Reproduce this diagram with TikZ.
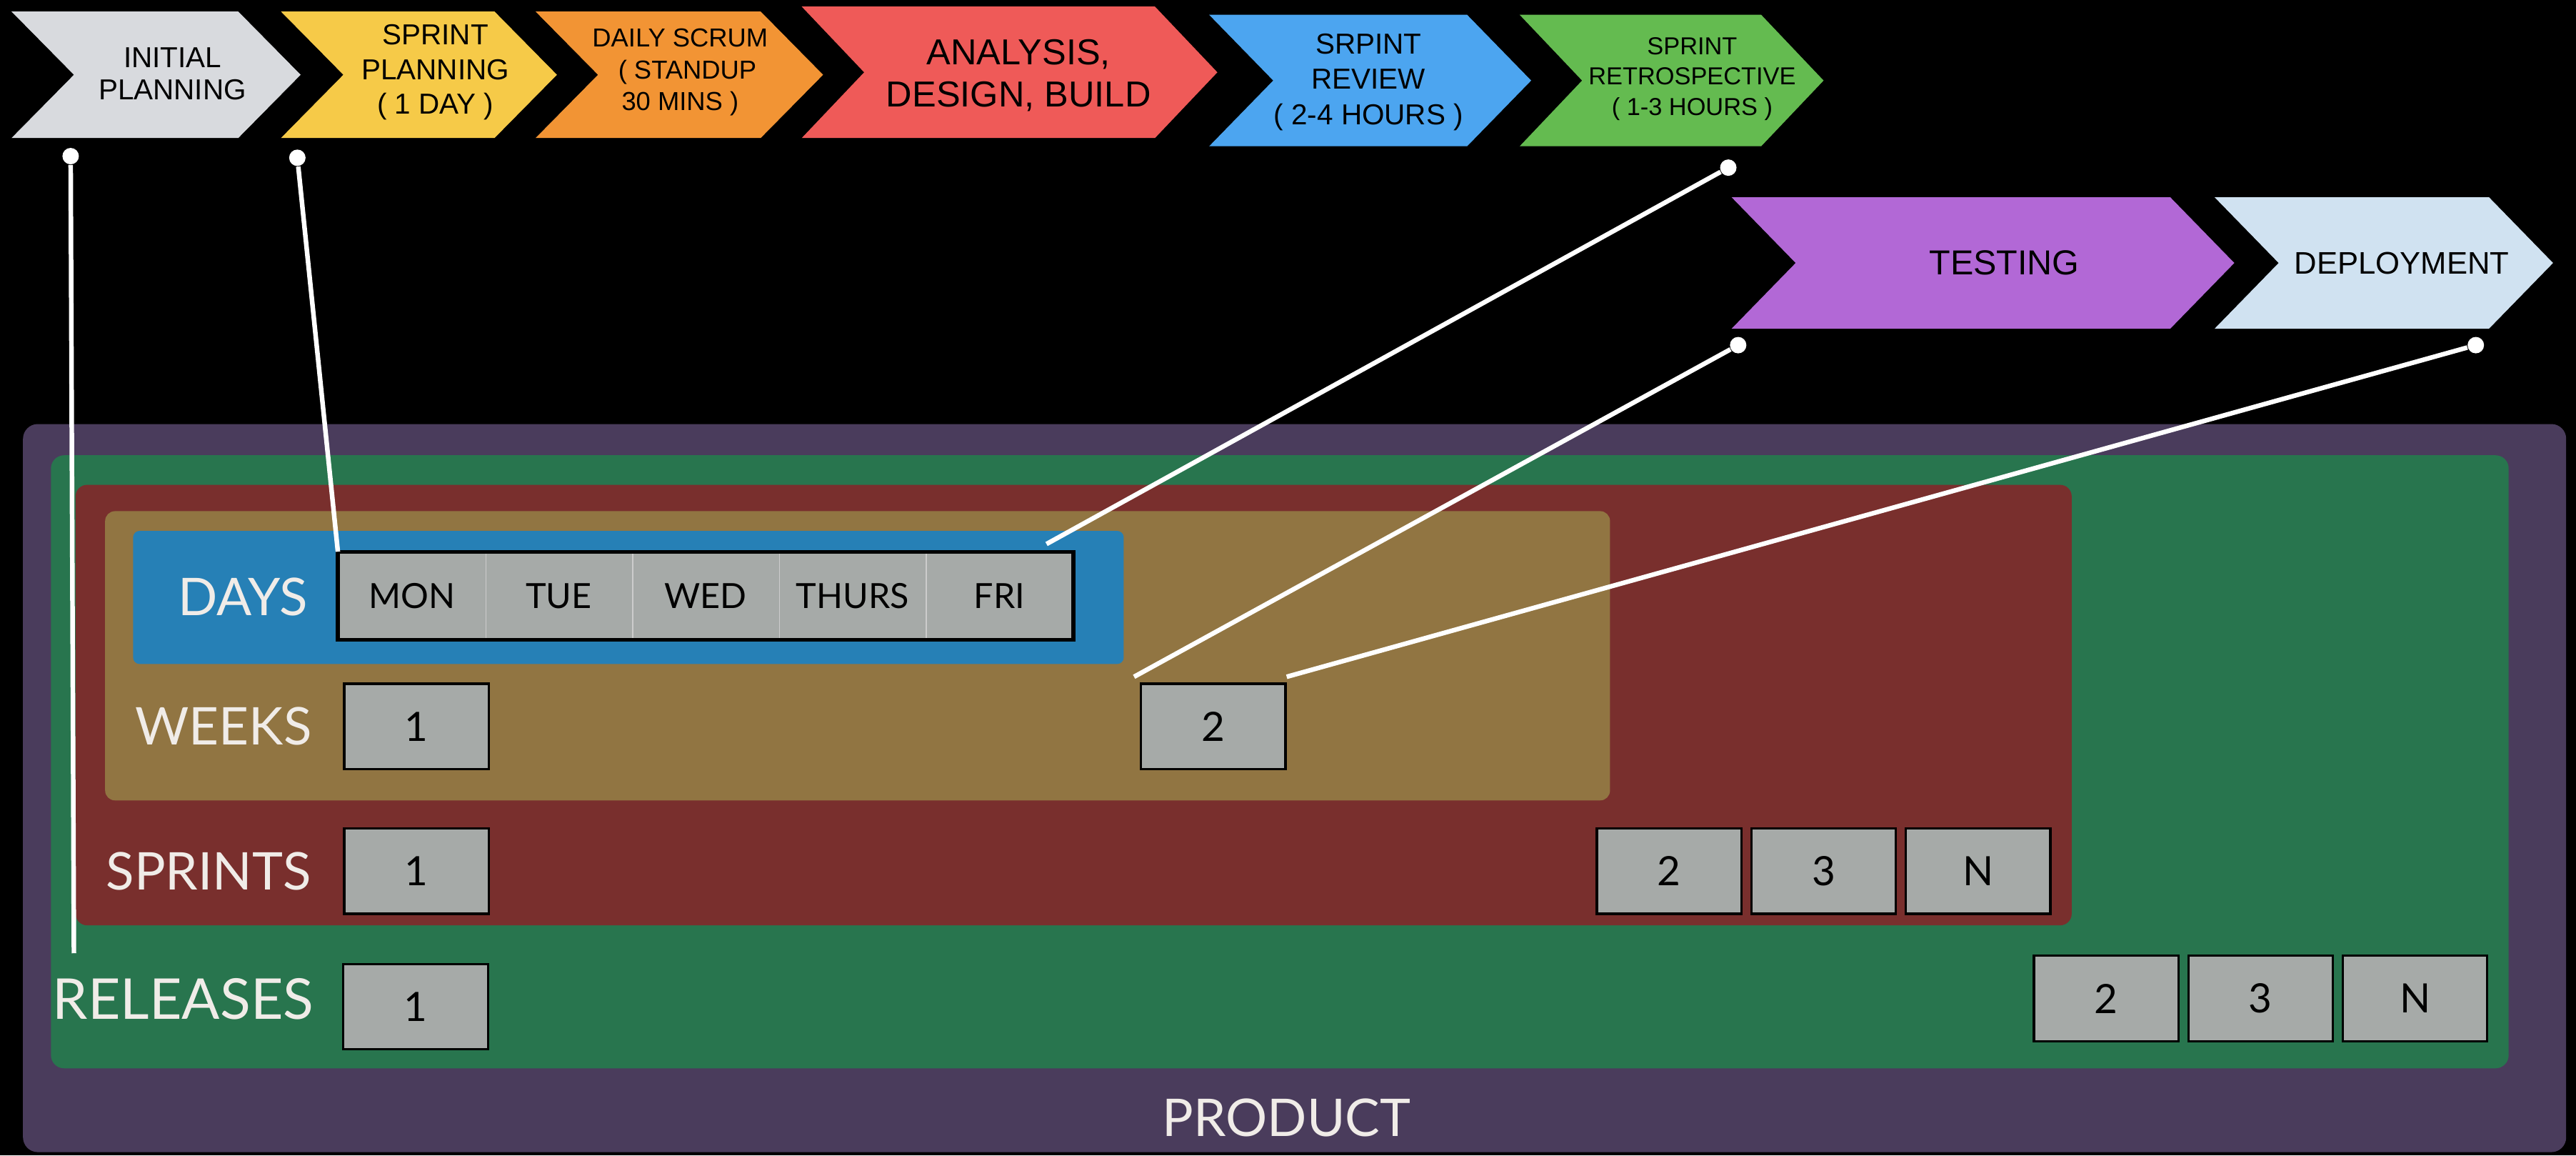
\documentclass[tikz,border=0pt]{standalone}
\usepackage{fontspec}
\setmainfont{Liberation Sans}
\newfontfamily\panelfont{Lato}
\usepackage{tikz}

% phase colours
\definecolor{phgray}{RGB}{216,218,222}
\definecolor{phyellow}{RGB}{246,202,72}
\definecolor{phorange}{RGB}{242,148,52}
\definecolor{phred}{RGB}{239,90,88}
\definecolor{phblue}{RGB}{76,165,240}
\definecolor{phgreen}{RGB}{100,187,80}
\definecolor{phpurple}{RGB}{178,104,214}
\definecolor{phpale}{RGB}{208,226,241}
% panel colours
\definecolor{prodcol}{RGB}{74,60,92}
\definecolor{relcol}{RGB}{40,117,78}
\definecolor{sprcol}{RGB}{121,47,45}
\definecolor{wkcol}{RGB}{145,117,66}
\definecolor{daycol}{RGB}{38,128,182}
\definecolor{boxgray}{RGB}{166,170,168}
\definecolor{tagwhite}{RGB}{240,236,232}

\tikzset{
  phase/.style={align=center, text=black, inner sep=0pt, font=\fontsize{10}{11}\selectfont},
  tag/.style={text=tagwhite, inner sep=0pt, font=\panelfont\fontsize{18}{20}\selectfont},
  cell/.style={fill=boxgray, minimum width=1.788cm, minimum height=1.06cm, inner sep=0pt, font=\panelfont\fontsize{12}{14}\selectfont},
  num/.style={fill=boxgray, draw=black, line width=0.8pt, minimum width=1.76cm, minimum height=1.04cm, inner sep=0pt, font=\panelfont\fontsize{14}{16}\selectfont},
  pin/.style={circle, fill=white, minimum size=0.2cm, inner sep=0pt},
  wire/.style={white, line width=1.6pt},
}

% left x, right x, depth, top y, bottom y, colour
\newcommand{\phasearrow}[6]{%
  \fill[#6] (#1,#4) -- (#2,#4) -- ({#2+#3},{(#4+#5)/2}) -- (#2,#5) -- (#1,#5) -- ({#1+#3},{(#4+#5)/2}) -- cycle;}

\begin{document}
\begin{tikzpicture}[x=0.02cm, y=-0.02cm]

    % Background
    \fill[black] (0,0) rectangle (1568,703);

    % Phase arrows, first row
    \phasearrow{7}{145}{38}{7}{84}{phgray}
    \phasearrow{171}{301}{38}{7}{84}{phyellow}
    \phasearrow{326}{463}{38}{7}{84}{phorange}
    \phasearrow{488}{703}{38}{4}{84}{phred}
    \phasearrow{736}{893}{39}{9}{89}{phblue}
    \phasearrow{925}{1072}{38}{9}{89}{phgreen}

    % Phase arrows, second row
    \phasearrow{1054}{1321}{39}{120}{200}{phpurple}
    \phasearrow{1348}{1515}{39}{120}{200}{phpale}

    % Phase labels
    \node[phase] (initial) at (105,45) {INITIAL\\PLANNING};
    \node[phase, font=\fontsize{10}{12}\selectfont] (sprplan) at (265,44) {SPRINT\\PLANNING\\( 1 DAY )};
    \node[phase, font=\fontsize{9}{11}\selectfont] (daily) at (414,44) {DAILY SCRUM\\\ \ ( STANDUP\\30 MINS )};
    \node[phase, font=\fontsize{12.5}{14.5}\selectfont] (build) at (620,46) {ANALYSIS,\\DESIGN, BUILD};
    \node[phase, font=\fontsize{10}{12.2}\selectfont] (review) at (833,50) {SRPINT\\REVIEW\\( 2-4 HOURS )};
    \node[phase, font=\fontsize{8.5}{10.5}\selectfont] (retro) at (1030,48) {SPRINT\\RETROSPECTIVE\\( 1-3 HOURS )};
    \node[phase, font=\fontsize{12}{14}\selectfont] (testing) at (1220,160) {TESTING};
    \node[phase, font=\fontsize{10.8}{13}\selectfont] (deploy) at (1462,160) {DEPLOYMENT};

    % Nested panels
    \fill[prodcol, rounded corners=0.18cm] (14,258) rectangle (1562,701);
    \fill[relcol, rounded corners=0.16cm] (31,277) rectangle (1527,650);
    \fill[sprcol, rounded corners=0.14cm] (46,295) rectangle (1261,563);
    \fill[wkcol, rounded corners=0.12cm] (64,311) rectangle (980,487);
    \fill[daycol, rounded corners=0.08cm] (81,323) rectangle (684,404);

    % Panel labels
    \node[tag] (days) at (148,363) {DAYS};
    \node[tag] (weeks) at (136,442) {WEEKS};
    \node[tag] (sprints) at (127,530) {SPRINTS};
    \node[tag, font=\panelfont\fontsize{19.5}{21}\selectfont] (releases) at (111.5,608) {RELEASES};
    \node[tag] (product) at (783,680) {PRODUCT};

    % Day cells
    \node[cell] (mon) at (250.7,362.5) {MON};
    \node[cell] (tue) at (340.1,362.5) {TUE};
    \node[cell] (wed) at (429.5,362.5) {WED};
    \node[cell] (thu) at (518.9,362.5) {THURS};
    \node[cell] (fri) at (608.3,362.5) {FRI};
    \draw[gray!40, line width=0.4pt] (mon.north east) -- (mon.south east);
    \draw[gray!40, line width=0.4pt] (tue.north east) -- (tue.south east);
    \draw[gray!40, line width=0.4pt] (wed.north east) -- (wed.south east);
    \draw[gray!40, line width=0.4pt] (thu.north east) -- (thu.south east);
    \draw[black, line width=1.3pt] (mon.north west) rectangle (fri.south east);

    % Week boxes
    \node[num] (wk1) at (253.5,442) {1};
    \node[num] (wk2) at (738.5,442) {2};

    % Sprint boxes
    \node[num] (sp1) at (253.5,530) {1};
    \node[num] (sp2) at (1016,530) {2};
    \node[num] (sp3) at (1110,530) {3};
    \node[num] (spn) at (1204,530) {N};

    % Release boxes
    \node[num] (rl1) at (253,612.5) {1};
    \node[num] (rl2) at (1282,607.5) {2};
    \node[num] (rl3) at (1376,607.5) {3};
    \node[num] (rln) at (1470,607.5) {N};

    % Pins under the phases
    \node[pin] (p1) at (43,95) {};
    \node[pin] (p2) at (181,96) {};
    \node[pin] (p3) at (1052,102) {};
    \node[pin] (p4) at (1058,210) {};
    \node[pin] (p5) at (1507,210) {};
    \coordinate (relend) at (45,580);
    \coordinate (friend) at (637,331);

    % Links from phases to the time boxes
    \draw[wire] (p1) -- (relend);
    \draw[wire] (p2) -- (mon.north west);
    \draw[wire] (p3) -- (friend);
    \draw[wire] (p4) -- ([xshift=-2pt,yshift=2pt]wk2.north west);
    \draw[wire] (p5) -- ([yshift=2pt]wk2.north east);
\end{tikzpicture}
\end{document}
